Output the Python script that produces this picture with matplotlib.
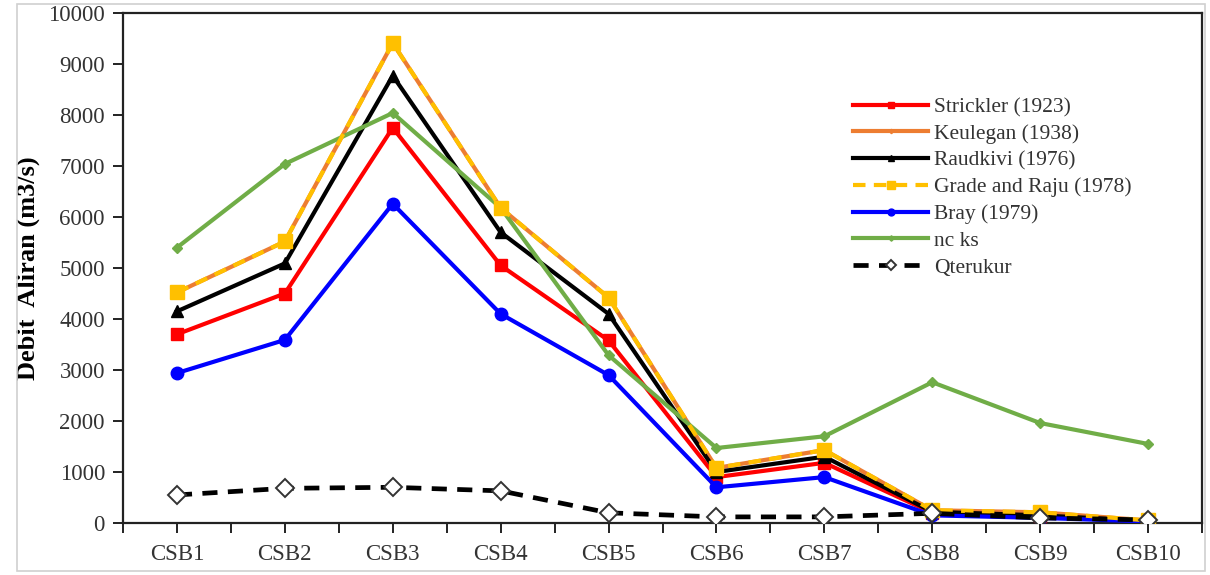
import numpy as np
import matplotlib as mpl
import matplotlib.pyplot as plt
from matplotlib.patches import Rectangle

# --------------------------------------------------------------------------
# data
# --------------------------------------------------------------------------
sections = ["CSB1", "CSB2", "CSB3", "CSB4", "CSB5",
            "CSB6", "CSB7", "CSB8", "CSB9", "CSB10"]

strickler = [3700, 4500, 7750, 5050, 3580, 900, 1180, 200, 130, 40]
keulegan  = [4520, 5520, 9410, 6180, 4420, 1080, 1430, 250, 210, 50]
raudkivi  = [4150, 5090, 8770, 5700, 4100, 1000, 1300, 220, 150, 40]
grade_raju = [4520, 5520, 9410, 6180, 4420, 1080, 1430, 250, 210, 50]
bray      = [2940, 3590, 6260, 4100, 2900, 700, 900, 150, 100, 30]
nc_ks     = [5400, 7040, 8040, 6180, 3290, 1470, 1700, 2760, 1960, 1550]
qterukur  = [550, 680, 700, 630, 200, 120, 120, 190, 100, 60]

y_ticks = [0, 1000, 2000, 3000, 4000, 5000, 6000, 7000, 8000, 9000, 10000]

INK = "#333333"

mpl.rcParams.update({
    "font.family": ["Liberation Serif", "DejaVu Serif"],
    "font.size": 15,
    "text.color": INK,
    "xtick.color": "#222222",
    "ytick.color": "#222222",
    "xtick.labelcolor": INK,
    "ytick.labelcolor": INK,
    "axes.linewidth": 1.6,
    "axes.edgecolor": "#222222",
})

fig = plt.figure(figsize=(12.1, 5.75), dpi=100)
ax = fig.add_axes([123 / 1210, 52 / 575, 1079 / 1210, 510 / 575])

# light frame round the whole picture
fig.patches.append(Rectangle((17 / 1210, 4 / 575), 1188 / 1210, 567 / 575,
                             transform=fig.transFigure, fill=False,
                             edgecolor="#D0D0D0", linewidth=1.2, zorder=0))

x = np.arange(1, len(sections) + 1)
LW = 3.0

ax.plot(x, strickler, color="#FF0000", lw=LW, marker="s", ms=9,
        label="Strickler (1923)", zorder=3)
ax.plot(x, keulegan, color="#ED7D31", lw=LW, marker="D", ms=4,
        label="Keulegan (1938)", zorder=3)
ax.plot(x, raudkivi, color="black", lw=LW, marker="^", ms=9,
        label="Raudkivi (1976)", zorder=3)
ax.plot(x, grade_raju, color="#FFC000", lw=LW, ls=(0, (3, 2)), marker="s", ms=10,
        label="Grade and Raju (1978)", zorder=4)
ax.plot(x, bray, color="#0000FF", lw=LW, marker="o", ms=9,
        label="Bray (1979)", zorder=3)
ax.plot(x, nc_ks, color="#70AD47", lw=LW, marker="D", ms=5,
        label="nc ks", zorder=3)
ax.plot(x, qterukur, color="black", lw=3.4, ls=(0, (3.2, 2.2)), marker="D", ms=9,
        mfc="white", mec="#333333", mew=1.4, label="Qterukur", zorder=5)

ax.set_xlim(0.5, len(sections) + 0.5)
ax.set_ylim(0, 10000)
ax.set_yticks(y_ticks)

# labelled ticks at section centres, plain ticks at the boundaries
ax.set_xticks(x)
ax.set_xticklabels(sections)
ax.set_xticks(np.arange(0.5, len(sections) + 1, 1.0), minor=True)
ax.tick_params(axis="x", which="both", direction="out", length=7, width=1.4)
ax.tick_params(axis="x", which="major", pad=8, labelsize=16.5)
ax.tick_params(axis="y", direction="out", length=7, width=1.4, pad=6,
               labelsize=16.5)

ax.set_ylabel("Debit  Aliran (m3/s)", fontweight="bold", fontsize=19,
              color="black", labelpad=6)

ax.legend(loc="upper left", bbox_to_anchor=(0.677, 0.835), frameon=False,
          fontsize=15.5, handlelength=3.45, handletextpad=0.3,
          labelspacing=0.31, borderpad=0, borderaxespad=0, markerscale=0.55)

fig.savefig("out.png", dpi=100)
